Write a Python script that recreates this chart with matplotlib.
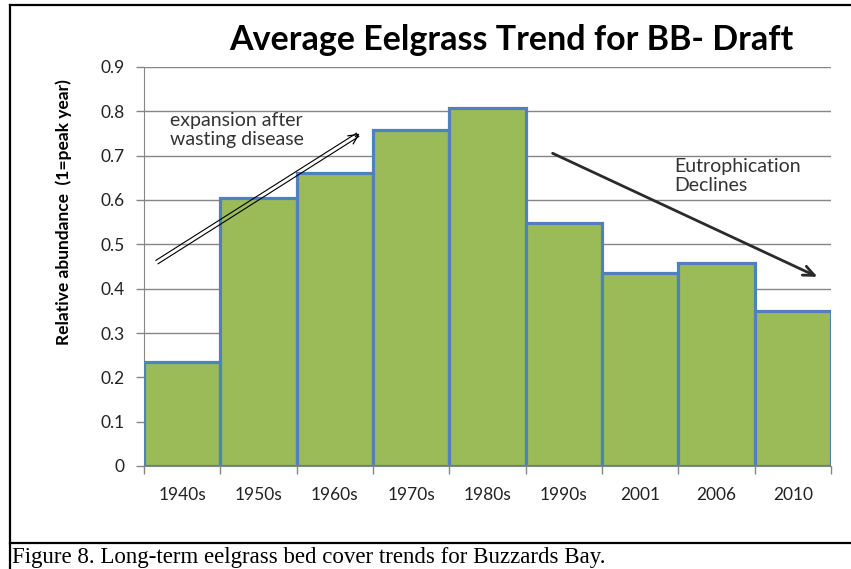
import matplotlib.pyplot as plt
import matplotlib.transforms as mtransforms
from matplotlib.lines import Line2D

periods = ['1940s', '1950s', '1960s', '1970s', '1980s', '1990s', '2001', '2006', '2010']
abundance = [0.235, 0.605, 0.662, 0.758, 0.807, 0.547, 0.435, 0.457, 0.350]
yticks = [0, 0.1, 0.2, 0.3, 0.4, 0.5, 0.6, 0.7, 0.8, 0.9]
ytick_labels = ['0', '0.1', '0.2', '0.3', '0.4', '0.5', '0.6', '0.7', '0.8', '0.9']

plt.rcParams['font.family'] = ['Lato', 'DejaVu Sans']

fig = plt.figure(figsize=(8.51, 5.69), dpi=100)
ax = fig.add_axes([144/851, 103/569, 687/851, 399/569])

x = range(len(periods))
ax.bar(x, abundance, width=1.0, color='#9BBB59', edgecolor='#4F81BD', linewidth=2.3, zorder=3)

ax.set_xlim(-0.5, len(periods) - 0.5)
ax.set_ylim(0, 0.9)
ax.set_yticks(yticks)
ax.set_yticklabels(ytick_labels)
ax.yaxis.grid(True, color='#868686', linewidth=1.0, zorder=0)
ax.set_axisbelow(True)

# x ticks at bar boundaries, labels at centres
ax.set_xticks([i - 0.5 for i in range(len(periods) + 1)])
ax.set_xticklabels([])
ax.set_xticks(list(x), minor=True)
ax.set_xticklabels(periods, minor=True)
ax.tick_params(axis='x', which='major', length=6, color='#868686', width=1)
ax.tick_params(axis='x', which='minor', length=0, pad=15, labelsize=12.5, labelcolor='#222222')
ax.tick_params(axis='y', length=6, color='#868686', width=1, pad=8, labelsize=12.5, labelcolor='#222222')

for s in ['top', 'right']:
    ax.spines[s].set_visible(False)
ax.spines['left'].set_color('#868686')
ax.spines['bottom'].set_color('#868686')

ax.set_ylabel('Relative abundance  (1=peak year)', fontsize=12.5, fontweight='bold')
ax.yaxis.set_label_coords(-0.105, 0.637)
fig.text(511/851, 1 - 40/569, 'Average Eelgrass Trend for BB- Draft', fontsize=24.5,
         fontweight='bold', ha='center', va='center')

# annotations
ax.text(-0.16, 0.758, 'expansion after\nwasting disease', fontsize=14, color='#333333',
        ha='left', va='center', linespacing=1.15)
ax.text(6.45, 0.654, 'Eutrophication\nDeclines', fontsize=14, color='#333333',
        ha='left', va='center', linespacing=1.15)

# double-line arrow
for sgn in (1, -1):
    tr = mtransforms.offset_copy(ax.transData, fig=fig, x=-1.1*sgn, y=1.7*sgn, units='dots')
    ax.plot([-0.33, 2.30], [0.46, 0.747], color='black', lw=0.8, transform=tr, zorder=5)
ax.annotate('', xy=(2.356, 0.753), xytext=(-9, -6), textcoords='offset pixels',
            arrowprops=dict(arrowstyle='->,head_length=0.7,head_width=0.35', lw=0.9, color='black'),
            zorder=5)

# decline arrow
ax.annotate('', xy=(8.356, 0.424), xytext=(4.82, 0.708),
            arrowprops=dict(arrowstyle='->,head_length=0.8,head_width=0.35', lw=2.0, color='#2b2b2b'),
            zorder=5)

# outer frame and caption
frame_kw = dict(color='black', lw=1.6, transform=fig.transFigure)
fig.add_artist(Line2D([10/851, 1.0], [1 - 5/569, 1 - 5/569], **frame_kw))
fig.add_artist(Line2D([10/851, 10/851], [1 - 5/569, 0.0], **frame_kw))
fig.add_artist(Line2D([10/851, 1.0], [1 - 543/569, 1 - 543/569], **frame_kw))
fig.text(12/851, 6/569, 'Figure 8. Long-term eelgrass bed cover trends for Buzzards Bay.',
         fontsize=16.5, family='Liberation Serif', va='baseline', ha='left')

fig.savefig('out.png', dpi=100)
